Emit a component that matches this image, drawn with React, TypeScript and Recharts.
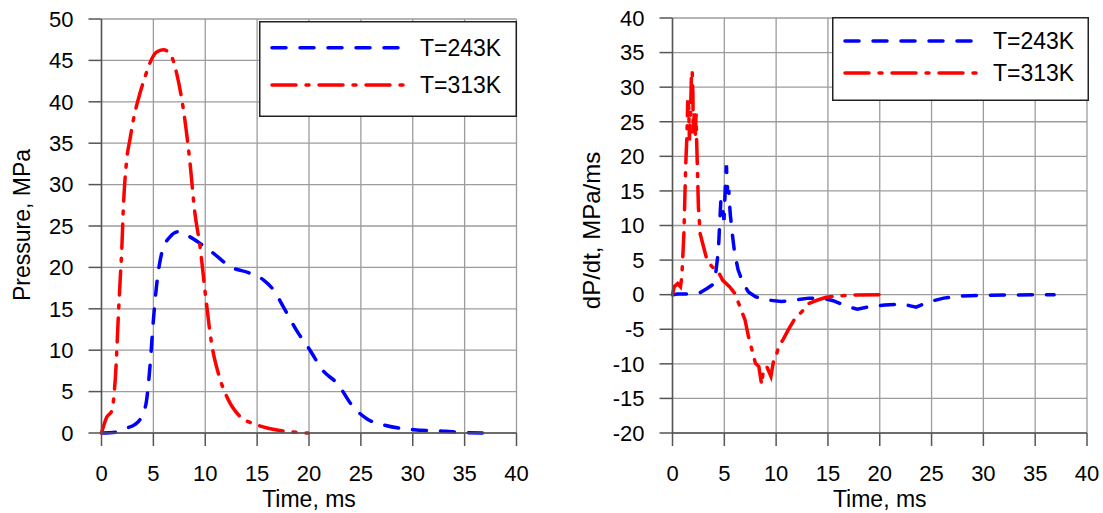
import React from 'react';
import { LineChart, Line, XAxis, YAxis, CartesianGrid } from 'recharts';

const FONT = '"Liberation Sans", Arial, Helvetica, sans-serif';

const timeTicks = [0, 5, 10, 15, 20, 25, 30, 35, 40];
const pressureTicks = [0, 5, 10, 15, 20, 25, 30, 35, 40, 45, 50];
const rateTicks = [-20, -15, -10, -5, 0, 5, 10, 15, 20, 25, 30, 35, 40];

const seriesNames = ['T=243K', 'T=313K'];

// pressure history, T=243K
const p243Time = [0, 1.4, 2.43, 3.2, 3.7, 4.0, 4.35, 4.67, 5.0, 5.3, 5.8, 6.6, 7.4, 8.5, 9.5, 10.8, 12.4, 14.3, 15.6, 16.56, 17.5, 18.8, 20.1, 21.3, 22.7, 24.3, 25.6, 27.4, 30.1, 33.2, 34.9, 37.2];
const p243Value = [0, 0.1, 0.6, 1.0, 1.6, 2.3, 4, 8, 13.6, 17.7, 21.7, 23.7, 24.3, 23.7, 22.9, 21.7, 20.1, 19.3, 18.5, 17.3, 15.3, 12.4, 10, 7.6, 6, 3.1, 1.7, 0.9, 0.4, 0.2, 0.05, 0];

// pressure history, T=313K
const p313Time = [0, 0.5, 1.0, 1.2, 1.4, 1.6, 1.8, 1.95, 2.1, 2.43, 2.75, 3.07, 3.7, 4.3, 4.67, 5.3, 5.96, 6.77, 7.25, 7.9, 8.5, 9.0, 9.5, 10.0, 10.6, 11.26, 12.07, 13.35, 14.96, 16.9, 19.9];
const p313Value = [0, 1.9, 2.7, 4.5, 8, 13.5, 18.5, 22, 27, 33, 35.5, 37.8, 41, 43.4, 44.7, 46, 46.3, 45.4, 43.4, 39, 33, 26.6, 22.5, 16.9, 10.9, 7.2, 4.4, 2, 1, 0.36, 0];

// pressure rise rate, T=243K
const r243Time = [0, 0.5, 1.5, 2.67, 3.33, 3.83, 4.17, 4.43, 4.57, 4.67, 4.83, 4.97, 5.1, 5.2, 5.33, 5.43, 5.57, 5.77, 6.0, 6.33, 6.83, 7.33, 8.0, 9.17, 10.5, 11.83, 13.17, 14.5, 15.5, 16.83, 17.83, 19.17, 20.5, 22.17, 23.5, 24.83, 26.17, 27.83, 29.83, 32.5, 36.83];
const r243Value = [0, 0.1, 0.1, 0.3, 0.9, 1.4, 3.1, 6.4, 10.8, 13.7, 12.7, 10.8, 15.6, 18.7, 14.6, 15.1, 11.7, 8.8, 6, 3.6, 1.6, 0.4, -0.3, -0.77, -1, -0.77, -0.5, -0.5, -0.87, -1.7, -2.1, -1.7, -1.5, -1.35, -1.8, -1, -0.5, -0.2, -0.1, -0.05, 0];

// pressure rise rate, T=313K
const r313Time = [0, 0.17, 0.5, 0.77, 0.9, 1.1, 1.27, 1.4, 1.47, 1.57, 1.63, 1.73, 1.83, 1.9, 1.97, 2.0, 2.1, 2.2, 2.27, 2.33, 2.4, 2.5, 2.67, 3.0, 3.33, 3.83, 4.33, 4.83, 5.5, 6.0, 6.5, 7.0, 7.33, 7.67, 8.0, 8.33, 8.6, 8.77, 9.1, 9.5, 9.77, 10.0, 10.23, 10.67, 11.17, 11.83, 12.5, 13.17, 14.0, 14.83, 15.83, 17.5, 20.3];
const r313Value = [0, 1.15, 1.6, 1.15, 2.6, 8.8, 18.5, 23.3, 28.1, 27.1, 22.3, 25.7, 31.9, 32.4, 29, 23.3, 26.2, 22.8, 26.2, 22.3, 18.5, 12.7, 8.8, 6.9, 5, 4.0, 3.6, 2.1, 1.15, 0.2, -1.7, -3.65, -6.05, -8, -9.9, -10.4, -13, -10.9, -10.4, -11.8, -9.4, -8.9, -7.5, -6.5, -5.1, -3.4, -2.45, -1.25, -0.77, -0.38, -0.2, -0.05, 0];

const zip = (t: number[], v: number[]) => t.map((x, i) => ({ t: x, v: v[i] }));

const BLUE = '#0000ff';
const RED = '#ff0000';
const DASH = '14 14';
const DASH_DOT = '24 10 3 10';
const AXIS = '#555';
const GRID = '#9c9c9c';

const tickStyle = { fontSize: 22, fill: '#000', fontFamily: FONT };

const XTitle = ({ viewBox, text }: any) => {
  const { x, y, width, height } = viewBox;
  return (
    <text x={x + width / 2} y={y + height - 6} textAnchor="middle" fontSize={23} fontFamily={FONT} fill="#000">
      {text}
    </text>
  );
};

const YTitle = ({ viewBox, text, dx, dy, size }: any) => {
  const { x, y, height } = viewBox;
  const cx = x + dx;
  const cy = y + height / 2 + dy;
  return (
    <text x={cx} y={cy} transform={`rotate(-90 ${cx} ${cy})`} textAnchor="middle" fontSize={size} fontFamily={FONT} fill="#000">
      {text}
    </text>
  );
};

const LegendBox = ({ left, top, width, height, rows }: any) => (
  <svg width={width} height={height} style={{ position: 'absolute', left, top }}>
    <rect x={0.75} y={0.75} width={width - 1.5} height={height - 1.5} fill="#fff" stroke="#222" strokeWidth={1.5} />
    {rows.map((r: any) => (
      <g key={r.name}>
        <line x1={13} x2={r.end} y1={r.y} y2={r.y} stroke={r.color} strokeWidth={3.5} strokeDasharray={r.dash} strokeLinecap="round" />
        <text x={161} y={r.y} dominantBaseline="central" fontSize={23} fontFamily={FONT} fill="#000">
          {r.name}
        </text>
      </g>
    ))}
  </svg>
);

const Panel = ({ width, margin, yWidth, yDomain, yTicks, yTitle, yTitleDx, yTitleDy, yTitleSize, series, curve }: any) => (
  <LineChart width={width} height={513} margin={margin}>
    <CartesianGrid stroke={GRID} strokeWidth={1.3} />
    <XAxis
      type="number"
      dataKey="t"
      domain={[0, 40]}
      ticks={timeTicks}
      interval={0}
      height={80}
      stroke={AXIS}
      strokeWidth={1.5}
      tickSize={13}
      tickMargin={19}
      tick={tickStyle}
      label={<XTitle text="Time, ms" />}
    />
    <YAxis
      type="number"
      domain={yDomain}
      ticks={yTicks}
      interval={0}
      width={yWidth}
      stroke={AXIS}
      strokeWidth={1.5}
      tickSize={13}
      tickMargin={15}
      tick={tickStyle}
      label={<YTitle text={yTitle} dx={yTitleDx} dy={yTitleDy} size={yTitleSize} />}
    />
    {series.map((s: any) => (
      <Line
        key={s.name}
        data={s.data}
        dataKey="v"
        type={curve}
        stroke={s.color}
        strokeWidth={3.5}
        strokeDasharray={s.dash}
        strokeLinecap="round"
        dot={false}
        activeDot={false}
        isAnimationActive={false}
      />
    ))}
  </LineChart>
);

export default function App() {
  const pressureSeries = [
    { name: seriesNames[0], data: zip(p243Time, p243Value), color: BLUE, dash: DASH },
    { name: seriesNames[1], data: zip(p313Time, p313Value), color: RED, dash: DASH_DOT },
  ];
  const rateSeries = [
    { name: seriesNames[0], data: zip(r243Time, r243Value), color: BLUE, dash: DASH },
    { name: seriesNames[1], data: zip(r313Time, r313Value), color: RED, dash: DASH_DOT },
  ];

  return (
    <div style={{ position: 'absolute', left: 0, top: 0, width: 1103, height: 513, background: '#fff', overflow: 'hidden' }}>
      <div style={{ position: 'absolute', left: 0, top: 0 }}>
        <Panel
          width={560}
          margin={{ top: 19, right: 43.5, bottom: 0, left: 0 }}
          yWidth={101.5}
          yDomain={[0, 50]}
          yTicks={pressureTicks}
          yTitle="Pressure, MPa"
          yTitleDx={30}
          yTitleDy={-1}
          yTitleSize={23}
          series={pressureSeries}
          curve="monotone"
        />
      </div>
      <div style={{ position: 'absolute', left: 560, top: 0 }}>
        <Panel
          width={543}
          margin={{ top: 18, right: 16, bottom: 0, left: 0 }}
          yWidth={112.5}
          yDomain={[-20, 40]}
          yTicks={rateTicks}
          yTitle="dP/dt, MPa/ms"
          yTitleDx={40}
          yTitleDy={5}
          yTitleSize={24}
          series={rateSeries}
          curve="linear"
        />
      </div>
      <LegendBox
        left={259}
        top={21}
        width={258}
        height={96}
        rows={[
          { name: seriesNames[0], y: 26.7, color: BLUE, dash: DASH, end: 143 },
          { name: seriesNames[1], y: 64, color: RED, dash: DASH_DOT, end: 148 },
        ]}
      />
      <LegendBox
        left={832}
        top={17}
        width={257}
        height={84}
        rows={[
          { name: seriesNames[0], y: 24, color: BLUE, dash: DASH, end: 141 },
          { name: seriesNames[1], y: 56, color: RED, dash: DASH_DOT, end: 148 },
        ]}
      />
    </div>
  );
}
